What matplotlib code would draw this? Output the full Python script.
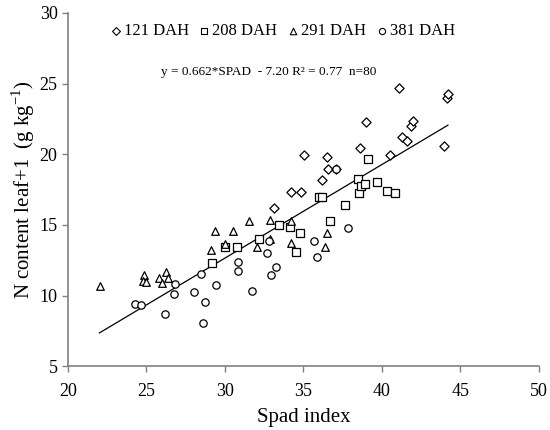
import matplotlib
matplotlib.use("Agg")
import matplotlib.pyplot as plt
import numpy as np

plt.rcParams['font.family'] = ['Liberation Serif', 'DejaVu Serif']

# 121 DAH (diamonds)
d121_x = [33.12, 34.23, 34.82, 35.01, 36.18, 36.50, 36.59, 37.10, 38.58, 39.00,
          40.49, 41.08, 41.30, 41.62, 41.85, 42.00, 43.93, 44.12, 44.18]
d121_y = [16.23, 17.34, 17.34, 19.93, 18.18, 19.79, 18.94, 18.94, 20.45, 22.29,
          19.95, 24.70, 21.20, 20.94, 22.00, 22.33, 20.56, 23.98, 24.27]
# 208 DAH (squares)
d208_x = [29.17, 30.03, 30.79, 32.15, 33.44, 34.17, 34.55, 34.76, 35.99, 36.20,
          36.71, 37.62, 38.47, 38.54, 38.69, 38.90, 39.11, 39.71, 40.32, 40.81]
d208_y = [12.28, 13.42, 13.44, 14.00, 15.00, 14.84, 13.07, 14.44, 16.96, 16.96,
          15.30, 16.39, 18.22, 17.28, 17.73, 17.90, 19.64, 18.05, 17.40, 17.26]
# 291 DAH (triangles)
d291_x = [22.04, 24.82, 24.78, 24.95, 25.80, 25.99, 26.22, 26.37, 29.08, 29.34,
          30.02, 30.51, 31.51, 32.04, 32.89, 32.87, 34.19, 34.23, 36.37, 36.50]
d291_y = [10.70, 11.45, 11.06, 10.98, 11.22, 10.91, 11.69, 11.28, 13.25, 14.55,
          13.68, 14.55, 15.28, 13.47, 14.00, 15.35, 13.70, 15.28, 13.42, 14.43]
# 381 DAH (circles)
d381_x = [24.29, 24.65, 26.18, 26.75, 26.82, 28.02, 28.45, 28.58, 28.75, 29.41,
          30.85, 30.85, 31.70, 32.68, 32.79, 32.94, 33.25, 35.66, 35.84, 37.10, 37.82]
d381_y = [9.39, 9.32, 8.72, 10.10, 10.80, 10.25, 11.53, 8.06, 9.58, 10.75,
          12.36, 11.77, 10.31, 13.00, 13.87, 11.48, 12.05, 13.87, 12.71, 18.94, 14.79]

legend_labels = ['121 DAH', '208 DAH', '291 DAH', '381 DAH']

slope = 0.662
intercept = -7.20
fit_x = [22.0, 44.2]

fig = plt.figure(figsize=(5.5, 4.3), dpi=100)
ax = fig.add_axes([0.1236, 0.148, 0.8564, 0.822])

kw = dict(facecolor='white', edgecolor='black', linewidths=0.9, zorder=3)
ax.scatter(d121_x, d121_y, marker='D', s=22, **kw)
ax.scatter(d208_x, d208_y, marker='s', s=26, **kw)
ax.scatter(d291_x, d291_y, marker='^', s=30, **kw)
ax.scatter(d381_x, d381_y, marker='o', s=28, **kw)

fx = np.array(fit_x)
ax.plot(fx, slope * fx + intercept, color='black', lw=0.9, zorder=2)

ax.set_xlim(20, 50)
ax.set_ylim(5, 30)
ax.set_xticks(range(20, 51, 5))
ax.set_yticks(range(5, 31, 5))
for s in ['top', 'right']:
    ax.spines[s].set_visible(False)
for s in ['left', 'bottom']:
    ax.spines[s].set_color('#808080')
    ax.spines[s].set_linewidth(1.2)
ax.tick_params(axis='both', direction='out', length=4, color='#808080',
               labelsize=13, width=1.0)
ax.tick_params(axis='x', pad=8)

ax.set_xlabel('Spad index', fontsize=15, labelpad=6)
ax.set_ylabel('N content leaf+1  (g kg$^{\\mathregular{-1}}$)', fontsize=15, labelpad=2)

# legend row (pixel positions converted into data positions)
leg_markers = [('D', 16), ('s', 18), ('^', 22), ('o', 20)]
leg_px = [116, 204, 293, 382]
for (m, s), lab, px in zip(leg_markers, legend_labels, leg_px):
    ax.scatter([20 + (px - 68.3) / 15.7], [28.7], marker=m, s=s,
               facecolor='white', edgecolor='black', linewidths=0.8,
               clip_on=False, zorder=4)
    ax.text(20 + (px + 8 - 68.3) / 15.7, 28.7, lab, fontsize=12,
            va='center', ha='left')

ax.text(32.8, 25.85, 'y = 0.662*SPAD  - 7.20 R² = 0.77  n=80', fontsize=9.5,
        ha='center', va='center')

fig.savefig('out.png', dpi=100)
